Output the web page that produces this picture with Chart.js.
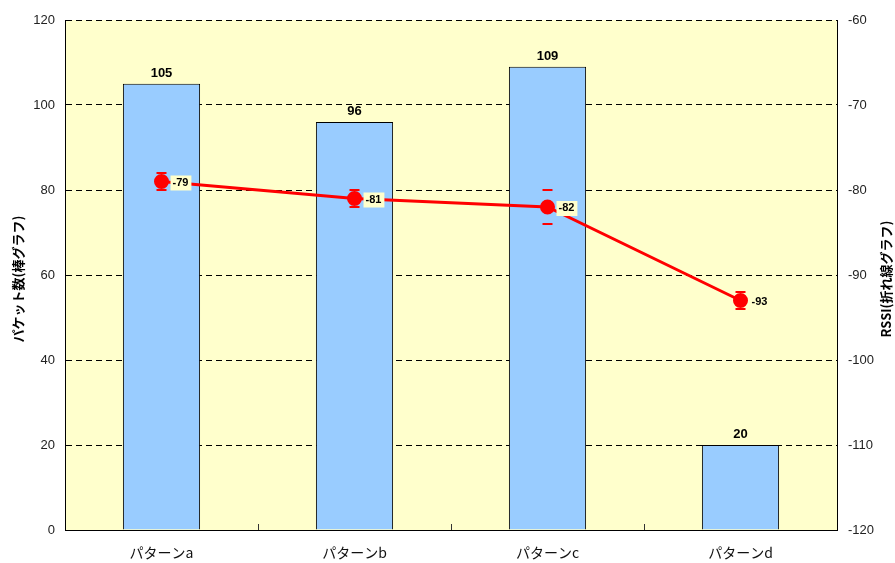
<!DOCTYPE html>
<html>
<head>
<meta charset="utf-8">
<script src="https://cdn.jsdelivr.net/npm/chart.js@4.4.0/dist/chart.umd.min.js"></script>
<style>
  html, body { margin: 0; padding: 0; background: #ffffff; }
  #wrap { width: 895px; height: 563px; }
</style>
</head>
<body>
<div id="wrap"><canvas id="packetChart" width="895" height="563"></canvas></div>
<script>
// Chart data
const categories = ["パターンa", "パターンb", "パターンc", "パターンd"];
const packetCounts = [105, 96, 109, 20];
const rssiValues = [-79, -81, -82, -93];
const rssiHigh = [-78, -80, -80, -92];
const rssiLow = [-80, -82, -84, -94];

const leftTitle = "パケット数(棒グラフ)";
const rightTitle = "RSSI(折れ線グラフ)";

const jpFont = '"Noto Sans CJK JP", "Noto Sans", sans-serif';
const numFont = '"Liberation Sans", Arial, sans-serif';

// Background, error bars, labels and axis titles
const decorPlugin = {
  id: "decor",
  beforeDraw(chart) {
    const { ctx, chartArea } = chart;
    ctx.save();
    ctx.fillStyle = "#FFFFCC";
    ctx.fillRect(chartArea.left, chartArea.top, chartArea.right - chartArea.left, chartArea.bottom - chartArea.top);
    ctx.restore();
  },
  afterDatasetsDraw(chart) {
    const { ctx, chartArea, scales } = chart;
    const xs = scales.x;
    const y1 = scales.y1;
    ctx.save();

    // small category separator ticks on x axis
    ctx.strokeStyle = "#333";
    ctx.lineWidth = 1;
    for (let i = 1; i < categories.length; i++) {
      const x = Math.round((xs.getPixelForTick(i - 1) + xs.getPixelForTick(i)) / 2) + 0.5;
      ctx.beginPath();
      ctx.moveTo(x, chartArea.bottom);
      ctx.lineTo(x, chartArea.bottom - 6);
      ctx.stroke();
    }

    // error bar caps
    ctx.strokeStyle = "#FF0000";
    ctx.lineWidth = 2;
    rssiValues.forEach((v, i) => {
      const x = xs.getPixelForTick(i);
      [rssiHigh[i], rssiLow[i]].forEach((e) => {
        const y = Math.round(y1.getPixelForValue(e));
        ctx.beginPath();
        ctx.moveTo(x - 5, y);
        ctx.lineTo(x + 5, y);
        ctx.stroke();
      });
    });

    // bar value labels
    ctx.fillStyle = "#000";
    ctx.font = "bold 13px " + numFont;
    ctx.textAlign = "center";
    ctx.textBaseline = "bottom";
    const barMeta = chart.getDatasetMeta(0);
    barMeta.data.forEach((bar, i) => {
      ctx.fillText(String(packetCounts[i]), bar.x, bar.y - 4);
    });

    // line value labels
    ctx.font = "bold 11px " + numFont;
    ctx.textAlign = "left";
    ctx.textBaseline = "middle";
    const lineMeta = chart.getDatasetMeta(1);
    lineMeta.data.forEach((pt, i) => {
      const txt = String(rssiValues[i]);
      const w = ctx.measureText(txt).width;
      const lx = pt.x + 10;
      const ly = pt.y + 1;
      ctx.fillStyle = "#FFFFCC";
      ctx.fillRect(lx - 1, ly - 7, w + 5, 15);
      ctx.fillStyle = "#000";
      ctx.fillText(txt, lx + 1, ly);
    });

    // axis titles
    ctx.font = "bold 13px " + jpFont;
    ctx.textAlign = "center";
    ctx.textBaseline = "middle";
    const midY = (chartArea.top + chartArea.bottom) / 2 + 4;
    ctx.save();
    ctx.translate(18, midY);
    ctx.rotate(-Math.PI / 2);
    ctx.fillText(leftTitle, 0, 0);
    ctx.restore();
    ctx.save();
    ctx.translate(886, midY);
    ctx.rotate(-Math.PI / 2);
    ctx.fillText(rightTitle, 0, 0);
    ctx.restore();

    ctx.restore();
  },
};

const ctx = document.getElementById("packetChart").getContext("2d");
new Chart(ctx, {
  data: {
    labels: categories,
    datasets: [
      {
        type: "bar",
        label: "パケット数",
        data: packetCounts,
        backgroundColor: "#99CCFF",
        borderColor: "#000000",
        borderWidth: 1,
        barPercentage: 0.4,
        categoryPercentage: 1,
        yAxisID: "y",
        order: 2,
      },
      {
        type: "line",
        label: "RSSI",
        data: rssiValues,
        borderColor: "#FF0000",
        backgroundColor: "#FF0000",
        borderWidth: 3,
        pointRadius: 6,
        pointBackgroundColor: "#FF0000",
        pointBorderColor: "#FF0000",
        tension: 0,
        yAxisID: "y1",
        order: 1,
      },
    ],
  },
  options: {
    responsive: false,
    animation: false,
    layout: { padding: { top: 20, left: 0, right: 0, bottom: 0 } },
    plugins: {
      legend: { display: false },
      tooltip: { enabled: false },
      title: { display: false },
    },
    scales: {
      x: {
        grid: { display: false, drawTicks: false },
        border: { display: true, color: "#000", width: 1 },
        ticks: {
          color: "#111",
          padding: 14,
          font: { family: jpFont, size: 14 },
        },
        afterFit(scale) { scale.height = 33; },
      },
      y: {
        position: "left",
        min: 0,
        max: 120,
        ticks: {
          stepSize: 20,
          color: "#222",
          padding: 10,
          font: { family: numFont, size: 13 },
        },
        grid: {
          color: "#000",
          lineWidth: 1,
          drawTicks: false,
        },
        border: { display: true, color: "#000", width: 1, dash: [6, 4] },
        afterFit(scale) { scale.width = 65; },
      },
      y1: {
        position: "right",
        min: -120,
        max: -60,
        ticks: {
          stepSize: 10,
          color: "#222",
          padding: 11,
          font: { family: numFont, size: 13 },
        },
        grid: { display: false, drawTicks: false },
        border: { display: true, color: "#000", width: 1 },
        afterFit(scale) { scale.width = 58; },
      },
    },
  },
  plugins: [decorPlugin],
});
</script>
</body>
</html>
